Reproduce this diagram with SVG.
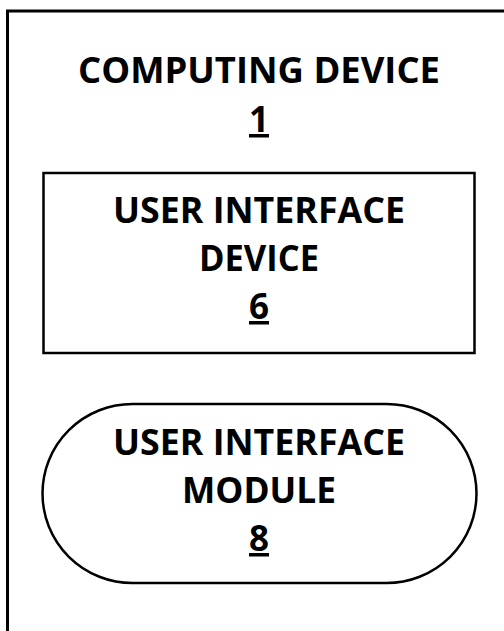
<svg xmlns="http://www.w3.org/2000/svg" width="504" height="631" viewBox="0 0 504 631">
<style>
.t{font-family:"Open Sans","Liberation Sans",sans-serif;font-weight:bold;font-size:35px;fill:#000;text-anchor:middle}
.u{text-decoration:underline}
.s{fill:#fff;stroke:#000;stroke-width:2.5}
</style>
<rect width="504" height="631" fill="#fff"/>
<g id="computing-device">
<path d="M7.5,640 V11 H520" fill="none" stroke="#000" stroke-width="3"/>
<text class="t" x="259" y="83" textLength="362" lengthAdjust="spacingAndGlyphs">COMPUTING DEVICE</text>
<text class="t u" x="259" y="132">1</text>
</g>
<g id="user-interface-device">
<rect class="s" x="43.5" y="173" width="431" height="180"/>
<text class="t" x="259" y="223" textLength="292" lengthAdjust="spacingAndGlyphs">USER INTERFACE</text>
<text class="t" x="259" y="271" textLength="120" lengthAdjust="spacingAndGlyphs">DEVICE</text>
<text class="t u" x="259" y="319">6</text>
</g>
<g id="user-interface-module">
<rect class="s" x="42.5" y="404" width="434" height="179" rx="90" ry="89.5"/>
<text class="t" x="259" y="455" textLength="292" lengthAdjust="spacingAndGlyphs">USER INTERFACE</text>
<text class="t" x="259" y="503" textLength="154" lengthAdjust="spacingAndGlyphs">MODULE</text>
<text class="t u" x="259" y="551">8</text>
</g>
<g id="connectors"></g>
</svg>
